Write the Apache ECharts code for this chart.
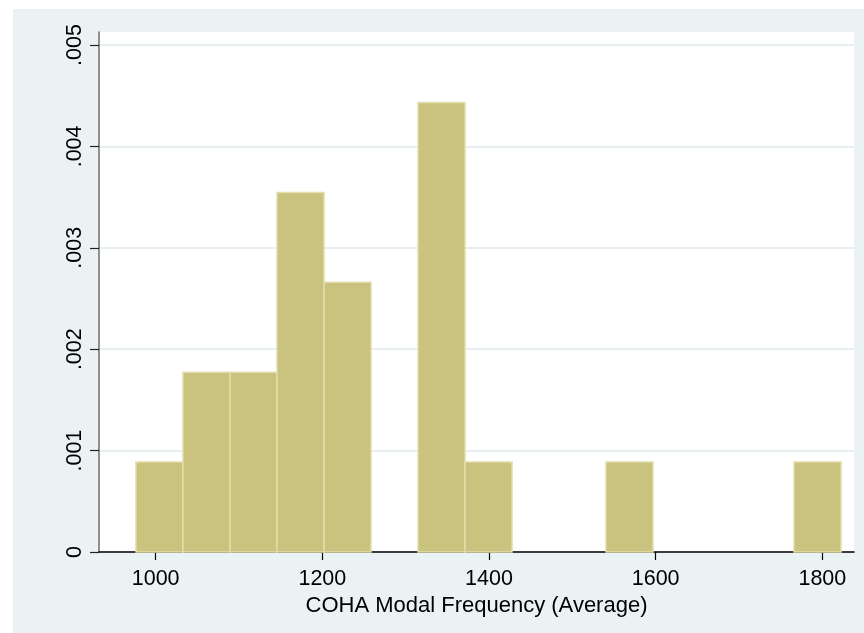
<!DOCTYPE html>
<html>
<head>
<meta charset="utf-8">
<title>COHA Modal Frequency histogram</title>
<script src="https://cdn.jsdelivr.net/npm/echarts@6/dist/echarts.min.js"></script>
<style>
  html, body { margin: 0; padding: 0; background: #ffffff; width: 864px; height: 633px; overflow: hidden; }
  #chart { position: absolute; left: 13px; top: 9px; width: 851px; height: 624px; background: #eaf2f3; }
</style>
</head>
<body>
<div id="chart"></div>
<script>
// Histogram bin edges (15 bins of equal width)
const binEdges = [976.4, 1032.8, 1089.2, 1145.6, 1202.0, 1258.4, 1314.8, 1371.2,
                  1427.6, 1484.0, 1540.4, 1596.8, 1653.2, 1709.6, 1766.0, 1822.4];
// Density of each bin
const densities = [0.000887, 0.001773, 0.001773, 0.003546, 0.002660, 0,
                   0.004433, 0.000887, 0, 0, 0.000887, 0, 0, 0, 0.000887];
// Axis ticks
const xTicks = [1000, 1200, 1400, 1600, 1800];
const yTicks = [0, 0.001, 0.002, 0.003, 0.004, 0.005];
const xTitle = 'COHA Modal Frequency (Average)';

const bars = densities.map((d, i) => [binEdges[i], binEdges[i + 1], d]);

const FONT = '"Liberation Sans", Arial, sans-serif';
const chart = echarts.init(document.getElementById('chart'), null, { renderer: 'canvas' });

chart.setOption({
  animation: false,
  backgroundColor: '#eaf2f3',
  grid: {
    left: 86, right: 10, top: 23, bottom: 81,
    show: true, backgroundColor: '#ffffff', borderWidth: 0,
    containLabel: false
  },
  xAxis: {
    type: 'value',
    min: 932, max: 1838,
    name: xTitle,
    nameLocation: 'middle',
    nameGap: 37,
    nameTextStyle: { fontFamily: FONT, fontSize: 22, color: '#000' },
    axisLine: { show: true, onZero: false, lineStyle: { color: '#000', width: 1.5 } },
    axisTick: { show: true, length: 8, customValues: xTicks, lineStyle: { color: '#000', width: 1.2 } },
    axisLabel: {
      customValues: xTicks, margin: 16,
      fontFamily: FONT, fontSize: 21.5, color: '#000',
      formatter: v => String(v)
    },
    splitLine: { show: false }
  },
  yAxis: {
    type: 'value',
    min: 0, max: 0.005128,
    axisLine: { show: true, lineStyle: { color: '#6e6e6e', width: 1.5 } },
    axisTick: { show: true, length: 9, customValues: yTicks, lineStyle: { color: '#222', width: 1.2 } },
    axisLabel: {
      customValues: yTicks, rotate: 90, margin: 13,
      fontFamily: FONT, fontSize: 21.5, color: '#000',
      formatter: v => v === 0 ? '0' : v.toFixed(3).replace(/^0/, '')
    },
    splitLine: { show: true, lineStyle: { color: '#e6eff1', width: 2 } }
  },
  series: [{
    type: 'custom',
    data: bars,
    encode: { x: [0, 1], y: 2 },
    renderItem: (params, api) => {
      const h = api.value(2);
      if (!h) return null;
      const p0 = api.coord([api.value(0), h]);
      const p1 = api.coord([api.value(1), 0]);
      return {
        type: 'rect',
        shape: { x: p0[0], y: p0[1], width: p1[0] - p0[0], height: p1[1] - p0[1] },
        style: { fill: '#cac380', stroke: '#e2dea9', lineWidth: 1.5 }
      };
    }
  }]
});
</script>
</body>
</html>
